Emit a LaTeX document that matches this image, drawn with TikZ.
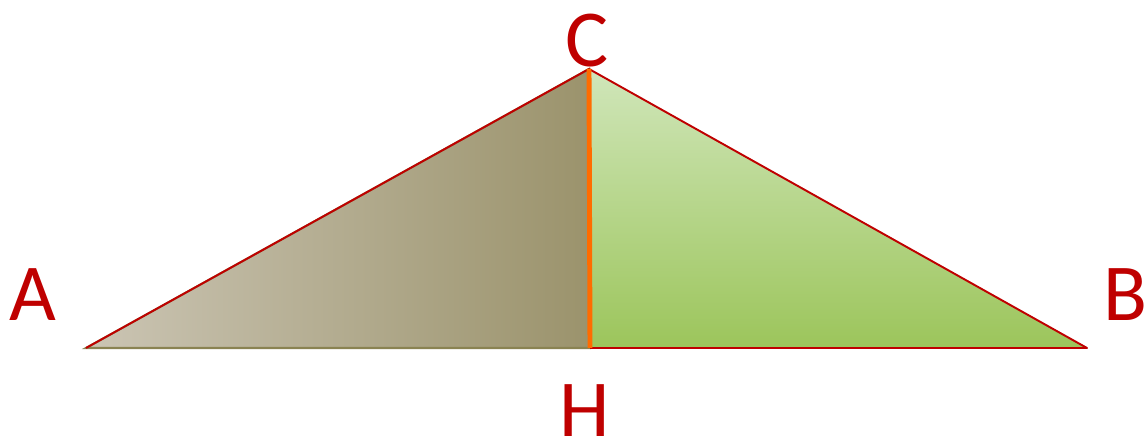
\documentclass[tikz,border=0pt]{standalone}
\usepackage{xcolor}
\usepackage{fontspec}
\setmainfont{Carlito}
\usepackage{tikz}
\usetikzlibrary{positioning}

\begin{document}
\begin{tikzpicture}[thick, every node/.style={align=center}]
      \colorlet{ptred}{red!75!black} \colorlet{altor}{orange!85!red}
      \definecolor{greentop}{HTML}{D0E6BA} \definecolor{greenbot}{HTML}{9CC55B}
      \definecolor{brownl}{HTML}{CBC5B4} \definecolor{brownr}{HTML}{9B936C}
      \definecolor{olive}{HTML}{8A8352}
      \tikzset{ptlabel/.style={text=ptred, inner sep=0pt, font=\fontsize{46}{46}\selectfont}}

      \useasboundingbox (0, 0) rectangle (22.92, 8.9);
      \coordinate (A) at (1.72, 1.94);
      \coordinate (B) at (21.74, 1.94);
      \coordinate (C) at (11.78, 7.52);
      \coordinate (H) at (11.8, 1.94);

      \shade[top color=greentop, bottom color=greenbot] (C) -- (B) -- (H) -- cycle;
      \shade[left color=brownl, right color=brownr] (A) -- (H) -- (C) -- cycle;
      \draw[olive, line width=1.2pt] (A) -- (H) -- (C) -- cycle;
      \draw[ptred, line width=1.1pt, line join=round] (A) -- (C) -- (B) -- (H);
      \draw[altor, line width=2.8pt] (H) -- (C);

      \node[ptlabel] (labA) at (0.66, 3.0) {A};
      \node[ptlabel] (labB) at (22.5, 3.0) {B};
      \node[ptlabel] (labC) at (11.74, 8.08) {C};
      \node[ptlabel] (labH) at (11.7, 0.68) {H};
    \end{tikzpicture}
\end{document}
